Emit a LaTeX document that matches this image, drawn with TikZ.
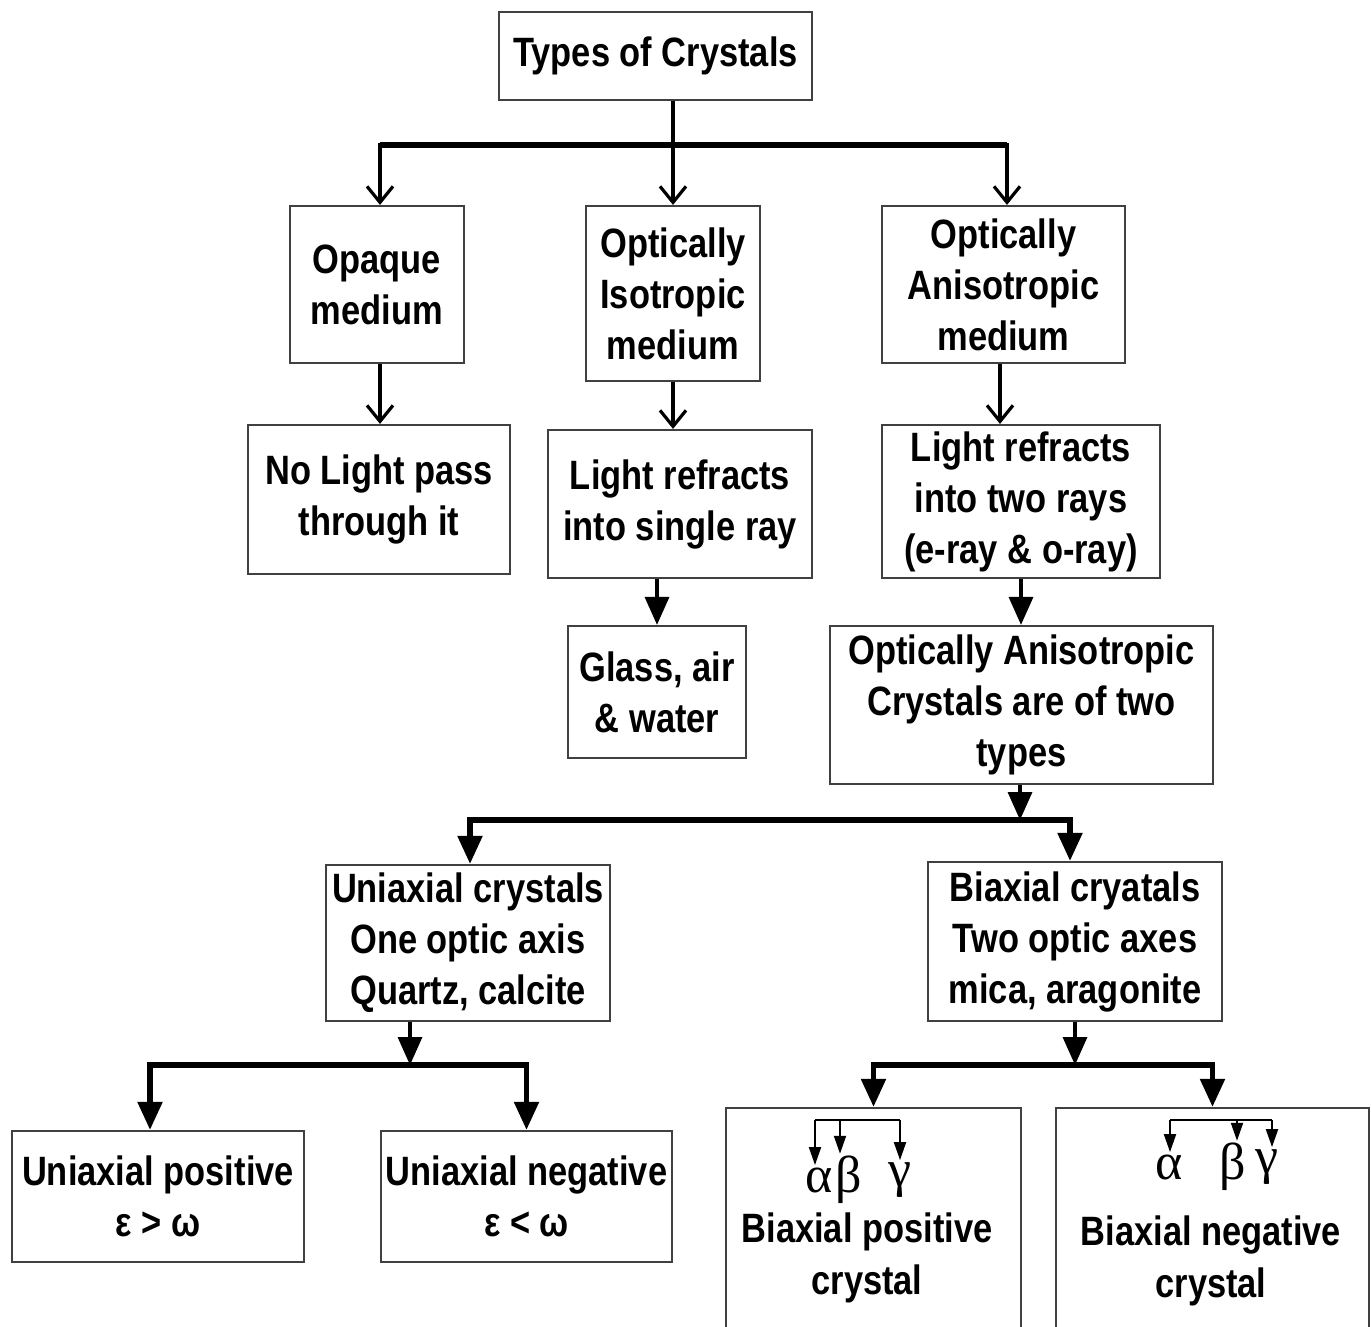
\documentclass[tikz,border=0pt]{standalone}
\usepackage{fontspec}
\setmainfont{Liberation Sans}[FakeStretch=0.84]
\newfontfamily\grkfont{Liberation Serif}
\usetikzlibrary{arrows.meta,calc}
\begin{document}
\begin{tikzpicture}[x=0.5pt,y=-0.5pt,
  box/.style={draw=black!75, line width=1.1pt, align=center, inner sep=0pt,
    font=\fontsize{20.5}{25.5}\selectfont\bfseries},
  txt/.style={align=center, inner sep=0pt, font=\fontsize{20.5}{26}\selectfont\bfseries},
  wh/.style 2 args={minimum width=#1*0.5pt, minimum height=#2*0.5pt},
  grk/.style={inner sep=1pt, font=\fontsize{26}{28}\selectfont\grkfont},
  oarr/.style={-{Straight Barb[length=8pt,width=13pt,line width=1.6pt]}, line width=1.7pt},
  farr/.style={-{Triangle[length=14pt,width=12pt]}, line width=1.7pt},
  barline/.style={line width=2.6pt},
  sarr/.style={-{Triangle[length=9pt,width=6pt]}, line width=1pt},
]
\clip (0,0) rectangle (1371,1327);
\fill[white] (0,0) rectangle (1371,1327);

% boxes
\node[box, wh={313}{88}]  (types)   at (655.5,56)   {Types of Crystals};
\node[box, wh={174}{157}] (opaque)  at (377,284.5)  {Opaque\\medium};
\node[box, wh={174}{175}] (iso)     at (673,293.5)  {Optically\\Isotropic\\medium};
\node[box, wh={243}{157}] (aniso)   at (1003.5,284.5) {Optically\\Anisotropic\\medium};
\node[box, wh={262}{149}] (nolight) at (379,499.5)  {No Light pass\\through it};
\node[box, wh={264}{148}] (single)  at (680,504)    {Light refracts\\into single ray};
\node[box, wh={278}{153}] (two)     at (1021,501.5) {Light refracts\\into two rays\\(e-ray \& o-ray)};
\node[box, wh={178}{132}] (glass)   at (657,692)    {Glass, air\\\& water};
\node[box, wh={383}{158}] (oac)     at (1021.5,705) {Optically Anisotropic\\Crystals are of two\\types};
\node[box, wh={284}{156}] (uni)     at (468,943)    {Uniaxial crystals\\One optic axis\\Quartz, calcite};
\node[box, wh={294}{159}] (bi)      at (1075,941.5) {Biaxial cryatals\\Two optic axes\\mica, aragonite};
\node[box, wh={292}{131}] (upos)    at (158,1196.5) {Uniaxial positive\\ε > ω};
\node[box, wh={291}{131}] (uneg)    at (526.5,1196.5) {Uniaxial negative\\ε < ω};
\node[box, wh={295}{240}] (bpos)    at (873.5,1228) {};
\node[box, wh={313}{240}] (bneg)    at (1212.5,1228) {};

% top level
\coordinate (tj) at (673,145);
\draw[line width=1.7pt] (types.south -| tj) -- (tj);
\draw[oarr] (tj) -- (iso.north);
\draw[oarr, line width=2.2pt] (tj) -| ($(opaque.north)+(3,0)$);
\draw[oarr, line width=2.2pt] (tj) -| ($(aniso.north)+(3.5,0)$);
\draw[barline] (tj -| opaque.north) ++(3,0) -- ($(tj -| aniso.north)+(3.5,0)$);

% second level
\draw[oarr] ($(opaque.south)+(3,0)$) -- ($(opaque.south |- nolight.north)+(3,0)$);
\draw[oarr] (iso.south) -- (iso.south |- single.north);
\draw[oarr] ($(aniso.south)+(-3.5,0)$) -- ($(aniso.south |- two.north)+(-3.5,0)$);
\draw[farr] (single.south -| glass.north) -- (glass.north);
\draw[farr] (two.south) -- (two.south |- oac.north);

% anisotropic crystals split
\coordinate (oj) at (1020,820);
\draw[farr] (oac.south -| oj) -- (oj);
\draw[farr, barline] (oj) -| ($(uni.north)+(2,0)$);
\draw[farr, barline] (oj) -| ($(bi.north)+(-5,0)$);

% uniaxial split
\coordinate (uj) at (410,1065);
\draw[farr] (uni.south -| uj) -- (uj);
\draw[farr, barline] (uj) -| ($(upos.north)+(-8,0)$);
\draw[farr, barline] (uj) -| (uneg.north);

% biaxial split
\coordinate (bj) at (1075,1065);
\draw[farr] (bi.south) -- (bj);
\draw[farr, barline] (bj) -| (bpos.north);
\draw[farr, barline] (bj) -| (bneg.north);

% biaxial positive content
\node[grk] (pa) at (819,1180) {α};
\node[grk] (pb) at (849,1180) {β};
\node[grk] (pg) at (900,1180) {γ};
\node[txt] (ptext) at (867,1258) {Biaxial positive\\crystal};
\coordinate (p1) at (815,1120);
\coordinate (p2) at (840,1120);
\coordinate (p3) at (900,1120);
\draw[line width=1.2pt] (p1) -- (p3);
\draw[sarr] (p1) -- (p1 |- pa.north);
\draw[sarr] (p2) -- (p2 |- pb.north);
\draw[sarr] (p3) -- (p3 |- pg.north);

% biaxial negative content
\node[grk] (na) at (1169,1167) {α};
\node[grk] (nb) at (1233,1167) {β};
\node[grk] (ng) at (1267,1167) {γ};
\node[txt] (ntext) at (1211,1261) {Biaxial negative\\crystal};
\coordinate (n1) at (1170,1120);
\coordinate (n2) at (1237,1120);
\coordinate (n3) at (1272,1120);
\draw[line width=1.2pt] (n1) -- (n3);
\draw[sarr] (n1) -- (n1 |- na.north);
\draw[sarr] (n2) -- (n2 |- nb.north);
\draw[sarr] (n3) -- (n3 |- ng.north);
\end{tikzpicture}
\end{document}
